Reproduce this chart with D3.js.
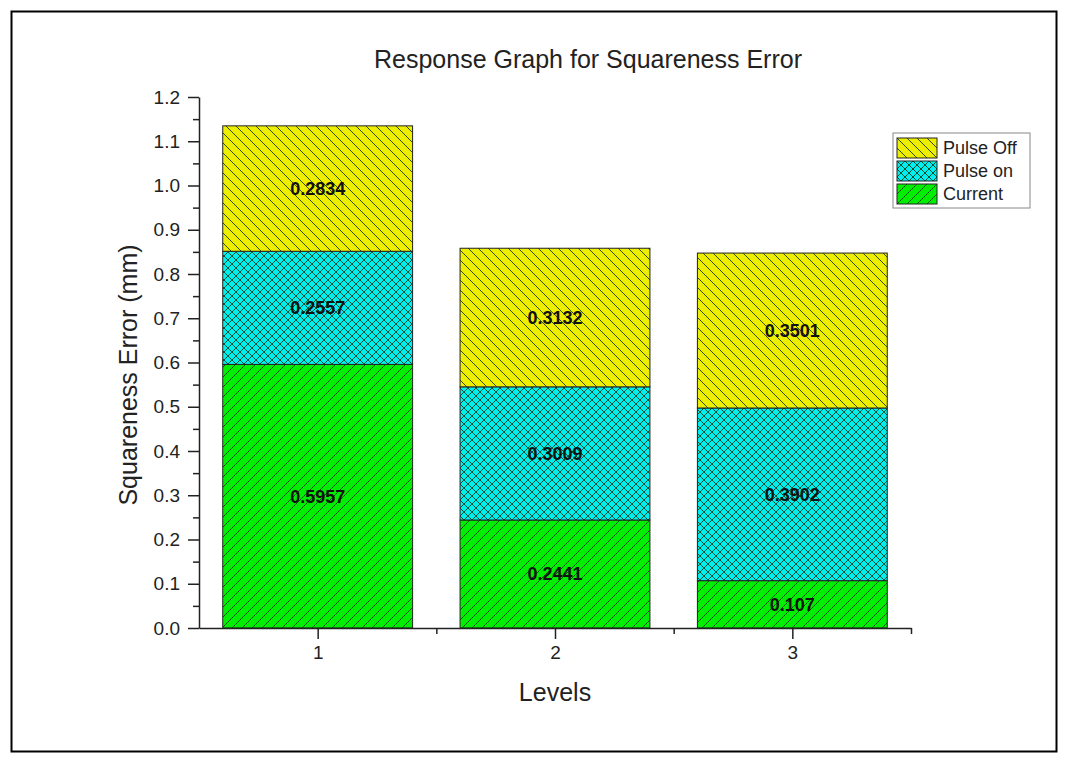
<!DOCTYPE html>
<html>
<head>
<meta charset="utf-8">
<script src="https://cdn.jsdelivr.net/npm/d3@7"></script>
<style>
body { margin: 0; background: #fff; }
text { font-family: Arial, "Liberation Sans", sans-serif; }
</style>
</head>
<body>
<svg width="1073" height="768"></svg>
<script>
var svg = d3.select("svg");

// data
var levels = [1, 2, 3];
var current = [0.5957, 0.2441, 0.107];
var pulseOn = [0.2557, 0.3009, 0.3902];
var pulseOff = [0.2834, 0.3132, 0.3501];
var seriesNames = ["Current", "Pulse on", "Pulse Off"];
var yTicks = [0, 0.1, 0.2, 0.3, 0.4, 0.5, 0.6, 0.7, 0.8, 0.9, 1.0, 1.1, 1.2];

var rows = levels.map(function(l, i) {
    return { level: l, "Current": current[i], "Pulse on": pulseOn[i], "Pulse Off": pulseOff[i] };
});
var stacked = d3.stack().keys(seriesNames)(rows);

// outer frame
svg.append("rect")
    .attr("x", 11.5).attr("y", 11.5)
    .attr("width", 1045).attr("height", 740)
    .attr("fill", "none").attr("stroke", "#000").attr("stroke-width", 2);

var x = d3.scaleLinear().domain([0.5, 3.5]).range([199, 911]);
var y = d3.scaleLinear().domain([0, 1.2]).range([628, 97]);
var barW = (x(2) - x(1)) * 0.8;

// hatch patterns
var defs = svg.append("defs");
function hatch(id, fill, paths, size) {
    var p = defs.append("pattern")
        .attr("id", id)
        .attr("patternUnits", "userSpaceOnUse")
        .attr("width", size).attr("height", size);
    p.append("rect").attr("width", size).attr("height", size).attr("fill", fill);
    paths.forEach(function(d) {
        p.append("path").attr("d", d).attr("stroke", "#1a3a1a").attr("stroke-width", 0.9).attr("fill", "none");
    });
}
hatch("hCurrent", "#00ee00", ["M0,10 L10,0", "M-2,2 L2,-2", "M8,12 L12,8"], 10);
hatch("hPulseOn", "#00eeee", ["M0,0 L8,8", "M0,8 L8,0", "M-2,2 L2,-2", "M6,10 L10,6", "M-2,6 L2,10", "M6,-2 L10,2"], 8);
hatch("hPulseOff", "#eeee00", ["M0,0 L10,10", "M-2,8 L2,12", "M8,-2 L12,2"], 10);
var fills = { "Current": "url(#hCurrent)", "Pulse on": "url(#hPulseOn)", "Pulse Off": "url(#hPulseOff)" };

// bars
var layer = svg.append("g").selectAll("g")
    .data(stacked)
    .enter().append("g");

layer.selectAll("rect")
    .data(function(d) { return d; })
    .enter().append("rect")
    .attr("x", function(d) { return x(d.data.level) - barW / 2; })
    .attr("y", function(d) { return y(d[1]); })
    .attr("width", barW)
    .attr("height", function(d) { return y(d[0]) - y(d[1]); })
    .attr("fill", function() { return fills[d3.select(this.parentNode).datum().key]; })
    .attr("stroke", "#222")
    .attr("stroke-width", 1);

layer.selectAll("text")
    .data(function(d) { return d.map(function(v) { v.key = d.key; return v; }); })
    .enter().append("text")
    .attr("x", function(d) { return x(d.data.level); })
    .attr("y", function(d) { return (y(d[0]) + y(d[1])) / 2; })
    .attr("dy", "0.35em")
    .attr("text-anchor", "middle")
    .attr("font-size", 18)
    .attr("font-weight", "bold")
    .attr("fill", "#111")
    .text(function(d) { return d.data[d.key]; });

// y axis
var yAxis = svg.append("g")
    .attr("transform", "translate(199,0)")
    .call(d3.axisLeft(y).tickValues(yTicks).tickFormat(d3.format(".1f")).tickSize(11).tickSizeOuter(0));
yAxis.selectAll("text").attr("font-size", 19).attr("x", -19).attr("fill", "#222");
svg.append("g")
    .attr("transform", "translate(199,0)")
    .call(d3.axisLeft(y).tickValues(d3.range(0.05, 1.2, 0.1)).tickFormat("").tickSize(6).tickSizeOuter(0))
    .select(".domain").remove();

// x axis
var xAxis = svg.append("g")
    .attr("transform", "translate(0,628)")
    .call(d3.axisBottom(x).tickValues(levels).tickFormat(d3.format("d")).tickSize(11).tickSizeOuter(0));
xAxis.selectAll("text").attr("font-size", 19).attr("y", 18).attr("fill", "#222");
svg.append("g")
    .attr("transform", "translate(0,628)")
    .call(d3.axisBottom(x).tickValues([1.5, 2.5, 3.5]).tickFormat("").tickSize(6).tickSizeOuter(0))
    .select(".domain").remove();

svg.selectAll(".domain, .tick line").attr("stroke", "#222").attr("stroke-width", 1.5);

// titles
svg.append("text")
    .attr("x", 588).attr("y", 68)
    .attr("text-anchor", "middle")
    .attr("font-size", 25)
    .attr("fill", "#222")
    .text("Response Graph for Squareness Error");
svg.append("text")
    .attr("x", 555).attr("y", 701)
    .attr("text-anchor", "middle")
    .attr("font-size", 25)
    .attr("fill", "#222")
    .text("Levels");
svg.append("text")
    .attr("transform", "translate(137,375) rotate(-90)")
    .attr("text-anchor", "middle")
    .attr("font-size", 25)
    .attr("fill", "#222")
    .text("Squareness Error (mm)");

// legend
var legend = svg.append("g").attr("transform", "translate(893,133)");
legend.append("rect")
    .attr("width", 137).attr("height", 75)
    .attr("fill", "#fff").attr("stroke", "#888").attr("stroke-width", 1);
var legendItems = ["Pulse Off", "Pulse on", "Current"];
var li = legend.selectAll("g.item")
    .data(legendItems)
    .enter().append("g")
    .attr("class", "item")
    .attr("transform", function(d, i) { return "translate(4," + (5 + i * 23) + ")"; });
li.append("rect")
    .attr("width", 40).attr("height", 20)
    .attr("fill", function(d) { return fills[d]; })
    .attr("stroke", "#222");
li.append("text")
    .attr("x", 46).attr("y", 10).attr("dy", "0.35em")
    .attr("font-size", 18)
    .attr("fill", "#222")
    .text(function(d) { return d; });
</script>
</body>
</html>
